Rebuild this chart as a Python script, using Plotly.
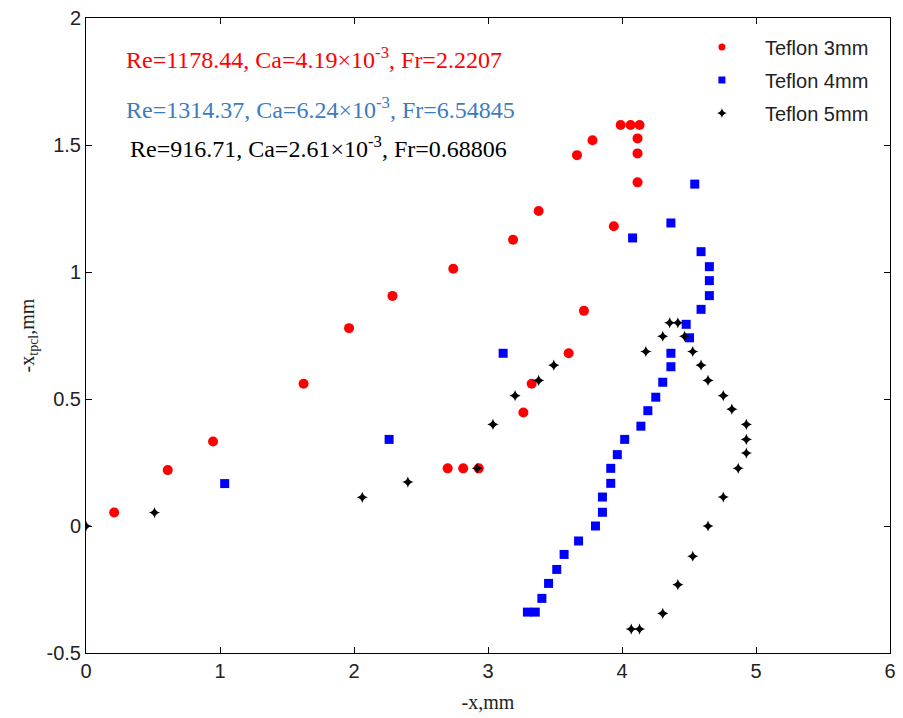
import plotly.graph_objects as go

# Teflon 3mm
x3 = [0.21, 0.61, 0.948, 1.624, 1.963, 2.287, 2.741, 3.187, 3.378, 3.664, 3.780, 3.99, 4.064, 4.131,
      4.116, 4.116, 4.116, 3.939, 3.716, 3.602, 3.326, 3.264, 2.931, 2.815, 2.699]
y3 = [0.053, 0.22, 0.333, 0.56, 0.779, 0.906, 1.013, 1.127, 1.240, 1.460, 1.519, 1.579, 1.579, 1.579,
      1.526, 1.467, 1.353, 1.180, 0.847, 0.680, 0.560, 0.447, 0.227, 0.227, 0.227]

# Teflon 4mm
x4 = [1.035, 2.262, 3.113, 3.294, 3.353, 3.402, 3.452, 3.513, 3.568, 3.676, 3.802, 3.854, 3.854, 3.916,
      3.916, 3.965, 4.02, 4.141, 4.193, 4.252, 4.304, 4.365, 4.365, 4.504, 4.479, 4.590, 4.652, 4.652,
      4.652, 4.590, 4.079, 4.365, 4.543]
y4 = [0.167, 0.341, 0.680, -0.339, -0.339, -0.285, -0.226, -0.171, -0.112, -0.059, 0.0, 0.054, 0.114, 0.168,
      0.227, 0.281, 0.341, 0.393, 0.454, 0.507, 0.566, 0.627, 0.680, 0.741, 0.794, 0.853, 0.907, 0.966,
      1.021, 1.080, 1.134, 1.193, 1.346]

# Teflon 5mm
x5 = [0.0, 0.511, 2.062, 2.402, 2.919, 3.037, 3.202, 3.378, 3.491, 4.178, 4.304, 4.356, 4.417, 4.467,
      4.528, 4.590, 4.642, 4.756, 4.820, 4.928, 4.928, 4.928, 4.867, 4.756, 4.642, 4.528, 4.417, 4.304,
      4.069, 4.131]
y5 = [0.0, 0.053, 0.113, 0.173, 0.227, 0.400, 0.513, 0.573, 0.633, 0.687, 0.747, 0.800, 0.800, 0.747,
      0.687, 0.633, 0.573, 0.513, 0.460, 0.400, 0.341, 0.287, 0.227, 0.114, 0.000, -0.119, -0.231, -0.344,
      -0.406, -0.406]

series_names = ["Teflon 3mm", "Teflon 4mm", "Teflon 5mm"]
xticks = [0, 1, 2, 3, 4, 5, 6]
xticklabels = ["0", "1", "2", "3", "4", "5", "6"]
yticks = [-0.5, 0, 0.5, 1, 1.5, 2]
yticklabels = ["-0.5", "0", "0.5", "1", "1.5", "2"]

notes = [
    ("Re=1178.44, Ca=4.19×10<sup>-3</sup>, Fr=2.2207", "#ff0000", 0.28, 1.843),
    ("Re=1314.37, Ca=6.24×10<sup>-3</sup>, Fr=6.54845", "#3b7cc0", 0.28, 1.646),
    ("Re=916.71, Ca=2.61×10<sup>-3</sup>, Fr=0.68806", "#000000", 0.311, 1.493),
]

styles = [
    dict(symbol="circle", color="#ff0000", size=10),
    dict(symbol="square", color="#0000ff", size=9),
    dict(symbol="star-diamond", color="#000000", size=8),
]
legend_sizes = [7, 7, 7]

fig = go.Figure()
for xs, ys, st in zip([x3, x4, x5], [y3, y4, y5], styles):
    fig.add_trace(go.Scatter(x=xs, y=ys, mode="markers", showlegend=False,
                             marker=dict(symbol=st["symbol"], color=st["color"], size=st["size"],
                                         line=dict(width=0))))
for i, (name, st) in enumerate(zip(series_names, styles)):
    fig.add_trace(go.Scatter(x=[None], y=[None], mode="markers", name=name, legendgroup=str(i),
                             marker=dict(symbol=st["symbol"], color=st["color"], size=legend_sizes[i],
                                         line=dict(width=0))))

for txt, col, ax, ay in notes:
    fig.add_annotation(x=ax, y=ay, text=txt, showarrow=False, xanchor="left", yanchor="middle",
                       font=dict(family="Liberation Serif, Times New Roman, serif", size=24, color=col))

axis_common = dict(showline=True, linecolor="#000000", linewidth=1, mirror="ticks",
                   ticks="inside", ticklen=6, tickcolor="#000000", showgrid=False, zeroline=False,
                   tickfont=dict(family="Liberation Sans, Arial, sans-serif", size=20, color="#222222"))

fig.update_layout(
    width=903, height=718,
    margin=dict(l=86, r=7, t=17, b=65),
    paper_bgcolor="white", plot_bgcolor="white",
    xaxis=dict(range=[0, 6], tickvals=xticks, ticktext=xticklabels,
               title=dict(text="-x,mm", standoff=13,
                          font=dict(family="Liberation Serif, Times New Roman, serif", size=20, color="#222222")),
               **axis_common),
    yaxis=dict(range=[-0.5, 2], tickvals=yticks, ticktext=yticklabels,
               title=dict(text="-x<sub>tpcl</sub>,mm", standoff=6,
                          font=dict(family="Liberation Serif, Times New Roman, serif", size=20, color="#222222")),
               **axis_common),
    legend=dict(x=0.98, y=0.985, xanchor="right", yanchor="top", bgcolor="rgba(0,0,0,0)",
                font=dict(family="Liberation Sans, Arial, sans-serif", size=20, color="#222222"),
                tracegroupgap=4, itemwidth=76),
)

fig.write_html("out.html")
